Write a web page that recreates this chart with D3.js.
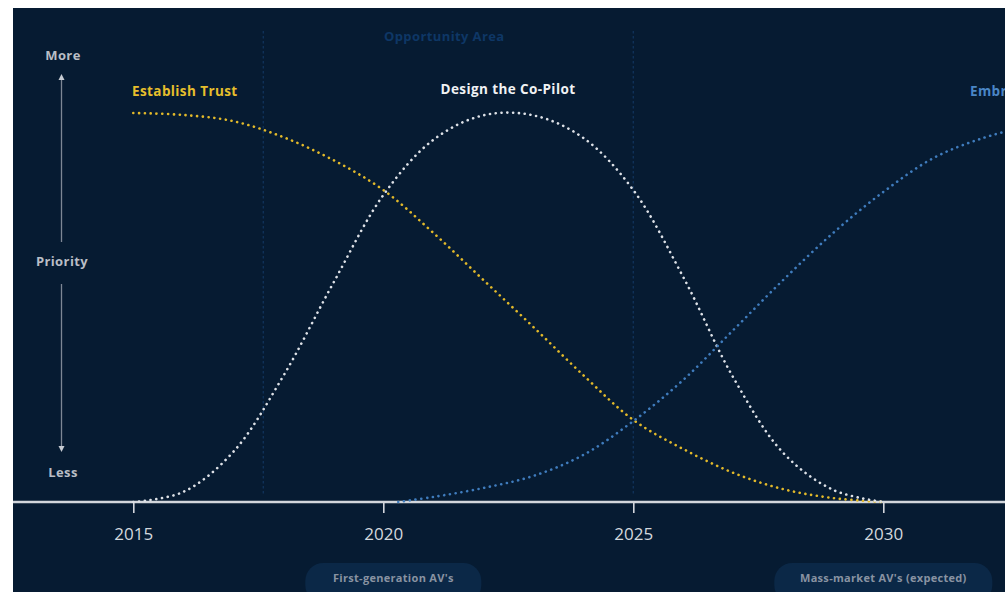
<!DOCTYPE html>
<html>
<head>
<meta charset="utf-8">
<script src="https://cdn.jsdelivr.net/npm/d3@7"></script>
<style>
  html, body { margin: 0; padding: 0; background: #ffffff; }
  svg { display: block; }
  text { font-family: "Open Sans", Lato, sans-serif; }
  .label { font-weight: 700; letter-spacing: 0.4px; }
</style>
</head>
<body>
<svg id="chart" width="1005" height="592"></svg>
<script>
// Priority (0-100) of each design focus over time
const trustYears = [2015, 2016, 2017, 2018, 2019, 2020, 2021, 2022, 2023, 2024, 2025, 2026, 2027, 2028, 2029, 2030];
const trustPriority = [100, 99.5, 97.9, 93.8, 87.9, 80.2, 69.2, 57.1, 45.0, 32.6, 21.1, 13.6, 7.5, 3.3, 1.0, 0];

const copilotYears = [2015, 2016, 2017, 2018, 2019, 2020, 2021, 2022, 2023, 2024, 2025, 2026, 2027, 2028, 2029, 2030];
const copilotPriority = [0, 2.6, 12.9, 32.4, 56.3, 78.9, 93.1, 99.4, 99.4, 93.6, 80.2, 57.8, 32.0, 12.6, 3.1, 0];

const embraceYears = [2020.3, 2021, 2022, 2023, 2024, 2025, 2026, 2027, 2028, 2029, 2030, 2031, 2032, 2033];
const embracePriority = [0, 1.3, 3.6, 6.7, 12.1, 20.8, 31.4, 44.2, 57.1, 69.2, 79.7, 88.4, 93.6, 97.0];

const tickYears = [2015, 2020, 2025, 2030];
const phaseMarkers = [2017.6, 2025];
const milestones = [
  { label: "First-generation AV's", year: 2020.2, width: 176 },
  { label: "Mass-market AV's (expected)", year: 2030.0, width: 218 }
];

const svg = d3.select("#chart");
const W = 1005, H = 592;

// dark panel
svg.append("rect").attr("x", 13).attr("y", 8).attr("width", W - 13).attr("height", H - 8).attr("fill", "#061b32");

const x = d3.scaleLinear().domain([2015, 2030]).range([133.3, 883.3]);
const y = d3.scaleLinear().domain([0, 100]).range([502, 113]);

// phase markers
svg.selectAll(".phase").data(phaseMarkers).join("line")
  .attr("x1", d => x(d)).attr("x2", d => x(d))
  .attr("y1", 31).attr("y2", 494)
  .attr("stroke", "#0f3158").attr("stroke-width", 1.4)
  .attr("stroke-dasharray", "2.5 2.5");

svg.append("text").attr("class", "label")
  .attr("x", (x(phaseMarkers[0]) + x(phaseMarkers[1])) / 2 - 4).attr("y", 41)
  .attr("text-anchor", "middle").attr("fill", "#0e3766")
  .attr("font-size", 13)
  .text("Opportunity Area");

// baseline
svg.append("line").attr("x1", 13).attr("x2", W).attr("y1", 502).attr("y2", 502)
  .attr("stroke", "#d2d6dc").attr("stroke-width", 2.6);

// x axis
const axis = svg.append("g").attr("transform", "translate(0,502)")
  .call(d3.axisBottom(x).tickValues(tickYears).tickFormat(d3.format("d")).tickSize(11).tickPadding(15));
axis.select(".domain").remove();
axis.selectAll(".tick line").attr("stroke", "#d2d6dc").attr("stroke-width", 1.6);
axis.selectAll(".tick text").attr("fill", "#d4d8de").attr("font-size", 17)
  .attr("font-family", "Lato, 'Open Sans', sans-serif");

// curves
const line = d3.line().x(d => x(d[0])).y(d => y(d[1])).curve(d3.curveCatmullRom.alpha(0.5));
const series = [
  { years: trustYears, values: trustPriority, color: "#e2b92a" },
  { years: copilotYears, values: copilotPriority, color: "#dde1e7" },
  { years: embraceYears, values: embracePriority, color: "#3f7cbd" }
];
series.forEach(s => {
  svg.append("path")
    .datum(s.years.map((yr, i) => [yr, s.values[i]]))
    .attr("d", line)
    .attr("fill", "none")
    .attr("stroke", s.color)
    .attr("stroke-width", 2.6)
    .attr("stroke-linecap", "round")
    .attr("stroke-dasharray", "0.1 5.7");
});

// series labels
svg.append("text").attr("class", "label").attr("x", 132).attr("y", 96).attr("fill", "#e6bf2c")
  .attr("font-size", 13.5).text("Establish Trust");
svg.append("text").attr("class", "label").attr("x", 508).attr("y", 94).attr("text-anchor", "middle").attr("fill", "#f0f2f4")
  .attr("font-size", 13.5).text("Design the Co-Pilot");
svg.append("text").attr("class", "label").attr("x", 970).attr("y", 96).attr("fill", "#4a86c6")
  .attr("font-size", 13.5).text("Embrace Autonomy");

// priority scale on the left
const grey = "#b9bec6";
svg.append("text").attr("class", "label").attr("x", 63).attr("y", 60).attr("text-anchor", "middle").attr("fill", grey)
  .attr("font-size", 13).text("More");
svg.append("text").attr("class", "label").attr("x", 62).attr("y", 266).attr("text-anchor", "middle").attr("fill", grey)
  .attr("font-size", 13).text("Priority");
svg.append("text").attr("class", "label").attr("x", 63).attr("y", 477).attr("text-anchor", "middle").attr("fill", grey)
  .attr("font-size", 13).text("Less");
svg.append("line").attr("x1", 61.5).attr("x2", 61.5).attr("y1", 78).attr("y2", 242)
  .attr("stroke", "#7d8795").attr("stroke-width", 1.3);
svg.append("line").attr("x1", 61.5).attr("x2", 61.5).attr("y1", 284).attr("y2", 447)
  .attr("stroke", "#7d8795").attr("stroke-width", 1.3);
svg.append("path").attr("d", "M61.5,74 L58.5,80 L64.5,80 Z").attr("fill", "#c6cbd2");
svg.append("path").attr("d", "M61.5,452 L58.5,446 L64.5,446 Z").attr("fill", "#c6cbd2");

// milestone pills
const pills = svg.selectAll(".pill").data(milestones).join("g")
  .attr("transform", d => `translate(${x(d.year)},563)`);
pills.append("rect")
  .attr("x", d => -d.width / 2).attr("y", 0)
  .attr("width", d => d.width).attr("height", 40).attr("rx", 18)
  .attr("fill", "#0b2847");
pills.append("text").attr("class", "label")
  .attr("x", 0).attr("y", 19).attr("text-anchor", "middle")
  .attr("fill", "#8993a2").attr("font-size", 11)
  .style("letter-spacing", "0.3px")
  .text(d => d.label);
</script>
</body>
</html>
